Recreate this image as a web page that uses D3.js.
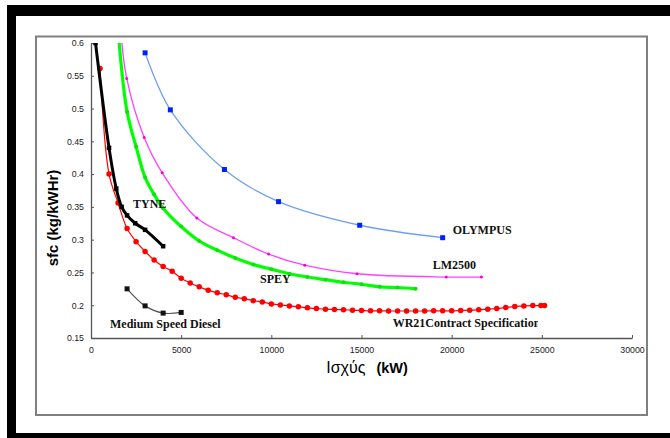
<!DOCTYPE html>
<html>
<head>
<meta charset="utf-8">
<script src="https://cdn.jsdelivr.net/npm/d3@7"></script>
<style>
  html, body { margin: 0; padding: 0; background: #fff; }
  #chart { width: 670px; height: 438px; }
</style>
</head>
<body>
<div id="chart"></div>
<script>
// tick values
const xTicks = [0, 5000, 10000, 15000, 20000, 25000, 30000];
const yTicks = [0.15, 0.2, 0.25, 0.3, 0.35, 0.4, 0.45, 0.5, 0.55, 0.6];

// OLYMPUS
const olympusX = [3000, 4400, 7400, 10400, 14900, 19500];
const olympusY = [0.585, 0.498, 0.407, 0.358, 0.322, 0.303];

// LM2500
const lmX = [1650, 1980, 2950, 3950, 5870, 7900, 9850, 11850, 14750, 19700, 21650];
const lmY = [0.62, 0.546, 0.456, 0.402, 0.333, 0.303, 0.278, 0.261, 0.248, 0.243, 0.243];

// SPEY
const speyX = [1500, 2000, 2500, 3000, 3500, 4000, 5000, 6000, 7000, 8000, 9000, 10000, 11000, 12000, 13000, 14000, 15000, 16000, 17000, 18000];
const speyY = [0.62, 0.495, 0.442, 0.395, 0.369, 0.348, 0.32, 0.298, 0.284, 0.272, 0.262, 0.255, 0.248, 0.243, 0.239, 0.235, 0.232, 0.228, 0.227, 0.225];

// TYNE
const tyneX = [250, 1000, 1400, 1700, 2000, 2450, 3000, 4000];
const tyneY = [0.60, 0.44, 0.378, 0.35, 0.337, 0.325, 0.315, 0.29];

// WR21 contract specification
const wrX = [500, 1000, 1500, 2000, 2500, 3000, 3500, 4000, 4500, 5000, 5500, 6000, 6500, 7000, 7500, 8000, 8500, 9000, 9500, 10000,
  10500, 11000, 11500, 12000, 12500, 13000, 13500, 14000, 14500, 15000, 15500, 16000, 16500, 17000, 17500, 18000, 18500, 19000, 19500, 20000,
  20500, 21000, 21500, 22000, 22500, 23000, 23500, 24000, 24500, 24950, 25150];
const wrY = [0.561, 0.40, 0.356, 0.317, 0.297, 0.282, 0.269, 0.259, 0.252, 0.241, 0.234, 0.228, 0.223, 0.219, 0.216, 0.212, 0.21, 0.207, 0.205, 0.202,
  0.2005, 0.199, 0.1975, 0.196, 0.195, 0.194, 0.1935, 0.193, 0.1925, 0.192, 0.1915, 0.1915, 0.1912, 0.1912, 0.1912, 0.1912, 0.1912, 0.1915, 0.1915, 0.1915,
  0.192, 0.1925, 0.193, 0.194, 0.195, 0.1965, 0.198, 0.199, 0.1995, 0.1995, 0.1995];

// Medium speed diesel
const msdX = [2000, 3000, 4000, 5000];
const msdY = [0.225, 0.199, 0.188, 0.189];

const zip = (xs, ys) => xs.map((x, i) => ({ x: x, y: ys[i] }));

const W = 670, H = 438;
const margin = { top: 43, right: 38, bottom: 100, left: 91 };
const width = W - margin.left - margin.right;   // 541
const height = H - margin.top - margin.bottom;  // 295

const svg = d3.select("#chart").append("svg")
  .attr("width", W)
  .attr("height", H)
  .attr("viewBox", `0 0 ${W} ${H}`);

// outer black border (partly cut off)
svg.append("rect").attr("x", 7).attr("y", 5).attr("width", W - 7).attr("height", 11).attr("fill", "#000");
svg.append("rect").attr("x", 7).attr("y", 5).attr("width", 9).attr("height", H - 5).attr("fill", "#000");
svg.append("rect").attr("x", 7).attr("y", 433).attr("width", W - 7).attr("height", 5).attr("fill", "#000");

// chart frame
svg.append("rect")
  .attr("x", 36).attr("y", 36.5)
  .attr("width", 611).attr("height", 378.5)
  .attr("fill", "#fff")
  .attr("stroke", "#808080")
  .attr("stroke-width", 2);

const g = svg.append("g").attr("transform", `translate(${margin.left},${margin.top})`);

const x = d3.scaleLinear().domain([0, 30000]).range([0, width]);
const y = d3.scaleLinear().domain([0.15, 0.6]).range([height, 0]);

const defs = svg.append("defs");
defs.append("clipPath").attr("id", "plot-clip")
  .append("rect").attr("x", 0).attr("y", 0).attr("width", width).attr("height", height);

// axes
const yAxis = g.append("g")
  .call(d3.axisLeft(y).tickValues(yTicks).tickFormat(d => String(d)).tickSizeInner(-3).tickSizeOuter(0).tickPadding(7));
const xAxis = g.append("g")
  .attr("transform", `translate(0,${height})`)
  .call(d3.axisBottom(x).tickValues(xTicks).tickFormat(d3.format("d")).tickSizeInner(-3).tickSizeOuter(0).tickPadding(9));

[xAxis, yAxis].forEach(ax => {
  ax.select(".domain").attr("stroke", "#555").attr("stroke-width", 1.3);
  ax.selectAll(".tick line").attr("stroke", "#555");
  ax.selectAll("text")
    .style("font-family", "Arial, 'Liberation Sans', sans-serif")
    .style("font-size", "8.8px")
    .attr("fill", "#222");
});

// axis titles
svg.append("text")
  .attr("transform", "translate(58,218) rotate(-90)")
  .attr("text-anchor", "middle")
  .style("font-family", "Arial, 'Liberation Sans', sans-serif")
  .style("font-size", "15px")
  .style("font-weight", "bold")
  .text("sfc (kg/kWHr)");

const xt = svg.append("text")
  .attr("x", 367)
  .attr("y", 373)
  .attr("text-anchor", "middle")
  .style("font-family", "Arial, 'Liberation Sans', sans-serif");
xt.append("tspan").style("font-size", "16px").text("Ισχύς");
xt.append("tspan").style("font-size", "14.5px").style("font-weight", "bold").attr("dx", 11).text("(kW)");

const plot = g.append("g").attr("clip-path", "url(#plot-clip)");

const line = d3.line()
  .x(d => x(d.x))
  .y(d => y(d.y))
  .curve(d3.curveCatmullRom.alpha(0.5));

function series(data, color, lw, marker, msize, mcolor) {
  plot.append("path")
    .datum(data)
    .attr("fill", "none")
    .attr("stroke", color)
    .attr("stroke-width", lw)
    .attr("stroke-linejoin", "round")
    .attr("d", line);
  const sel = plot.append("g").selectAll("path.m")
    .data(data)
    .enter()
    .append("path")
    .attr("class", "m")
    .attr("transform", d => `translate(${x(d.x)},${y(d.y)})`)
    .attr("fill", mcolor || color);
  if (marker === "square") {
    sel.attr("d", d3.symbol(d3.symbolSquare, msize * msize));
  } else {
    sel.attr("d", d3.symbol(d3.symbolCircle, Math.PI * msize * msize / 4));
  }
}

series(zip(wrX, wrY), "#ff0000", 1.2, "circle", 5.5, "#ff0000");
series(zip(msdX, msdY), "#555", 1.2, "square", 5, "#111");
series(zip(olympusX, olympusY), "#6fa0f0", 1.3, "square", 5, "#0020ff");
series(zip(lmX, lmY), "#ff40ff", 1.3, "circle", 3, "#ff00cc");
series(zip(speyX, speyY), "#00ff00", 3.2, "circle", 4, "#11dd11");
series(zip(tyneX, tyneY), "#000", 3, "square", 4.5, "#000");

// series labels
const labelFont = "'Times New Roman', 'Liberation Serif', serif";
const labels = g.append("g")
  .style("font-family", labelFont)
  .style("font-size", "12px")
  .style("font-weight", "bold")
  .attr("fill", "#111");

labels.append("text").attr("x", x(2330)).attr("y", y(0.355)).attr("dy", "0.35em").text("TYNE");
labels.append("text").attr("x", x(9371)).attr("y", y(0.2397)).attr("dy", "0.35em").text("SPEY");
labels.append("text").attr("x", x(20057)).attr("y", y(0.3148)).attr("dy", "0.35em").text("OLYMPUS");
labels.append("text").attr("x", x(18948)).attr("y", y(0.2615)).attr("dy", "0.35em").text("LM2500");
labels.append("text").attr("x", x(1054)).attr("y", y(0.171)).attr("dy", "0.35em").text("Medium Speed Diesel");

defs.append("clipPath").attr("id", "wr-clip")
  .append("rect").attr("x", 0).attr("y", 0).attr("width", x(24780)).attr("height", height);
labels.append("text")
  .attr("clip-path", "url(#wr-clip)")
  .attr("x", x(16730)).attr("y", y(0.1725)).attr("dy", "0.35em")
  .text("WR21Contract Specification");
</script>
</body>
</html>
